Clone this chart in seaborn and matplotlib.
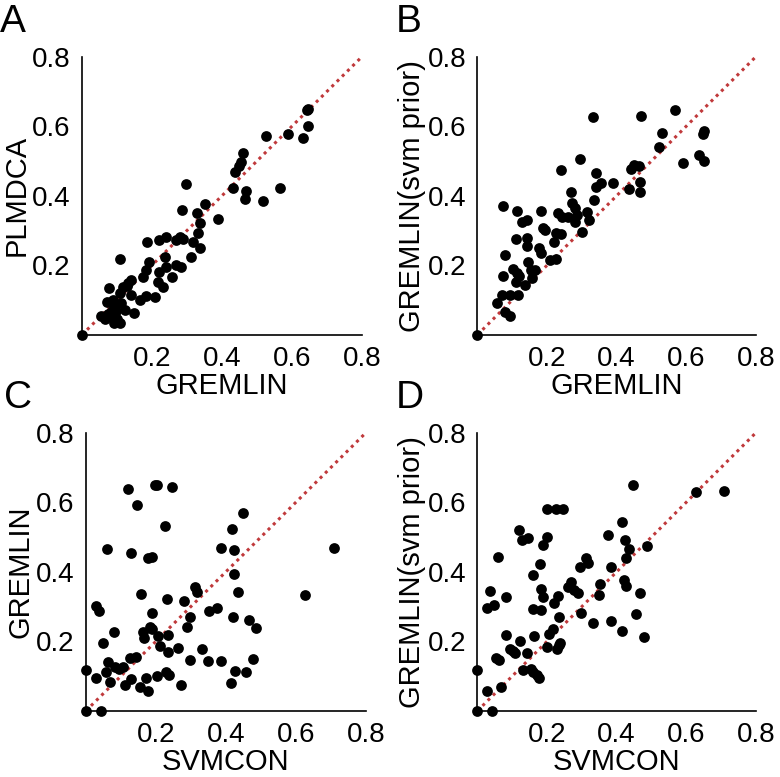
import numpy as np
import pandas as pd
import matplotlib
matplotlib.use('Agg')
import matplotlib.pyplot as plt
import seaborn as sns

# panel A: GREMLIN vs PLMDCA
a_x = [0, 0.055, 0.077, 0.071, 0.093, 0.108, 0.112, 0.093, 0.108, 0.079, 0.084, 0.122, 0.15,
       0.11, 0.117, 0.131, 0.141, 0.141, 0.165, 0.182, 0.208, 0.174, 0.182, 0.192, 0.186, 0.221,
       0.239, 0.236, 0.239, 0.217, 0.231, 0.22, 0.257, 0.27, 0.284, 0.27, 0.29, 0.279, 0.312,
       0.317, 0.331, 0.338, 0.336, 0.33, 0.351, 0.286, 0.298, 0.389, 0.431, 0.465, 0.468, 0.438,
       0.449, 0.455, 0.46, 0.517, 0.565, 0.527, 0.589, 0.633, 0.646, 0.643, 0.646,
       0.065, 0.1, 0.088, 0.128, 0.075, 0.098]
a_y = [0, 0.055, 0.134, 0.096, 0.081, 0.12, 0.091, 0.033, 0.035, 0.053, 0.067, 0.072, 0.064,
       0.219, 0.139, 0.148, 0.158, 0.115, 0.1, 0.112, 0.108, 0.166, 0.187, 0.211, 0.268, 0.273,
       0.282, 0.225, 0.196, 0.153, 0.139, 0.182, 0.167, 0.201, 0.196, 0.273, 0.275, 0.282, 0.225,
       0.268, 0.292, 0.249, 0.321, 0.351, 0.375, 0.359, 0.433, 0.332, 0.423, 0.392, 0.414, 0.469,
       0.485, 0.498, 0.523, 0.385, 0.423, 0.571, 0.579, 0.567, 0.6, 0.646, 0.65,
       0.045, 0.045, 0.1, 0.14, 0.06, 0.07]

# panel B: GREMLIN vs GREMLIN(svm prior)
b_x = [0, 0.056, 0.07, 0.094, 0.08, 0.094, 0.073, 0.08, 0.073, 0.101, 0.113, 0.12, 0.111,
       0.118, 0.137, 0.153, 0.146, 0.166, 0.156, 0.111, 0.115, 0.127, 0.142, 0.142, 0.143, 0.178,
       0.184, 0.182, 0.188, 0.194, 0.209, 0.226, 0.221, 0.226, 0.24, 0.231, 0.242, 0.239, 0.261,
       0.269, 0.273, 0.28, 0.285, 0.28, 0.295, 0.302, 0.314, 0.321, 0.333, 0.335, 0.34, 0.342,
       0.355, 0.39, 0.436, 0.44, 0.45, 0.465, 0.467, 0.467, 0.469, 0.521, 0.53, 0.569, 0.591,
       0.637, 0.651, 0.647, 0.65]
b_y = [0, 0.093, 0.115, 0.115, 0.067, 0.055, 0.17, 0.23, 0.371, 0.189, 0.179, 0.168, 0.151,
       0.115, 0.144, 0.187, 0.211, 0.187, 0.163, 0.276, 0.357, 0.326, 0.33, 0.28, 0.256, 0.249,
       0.235, 0.356, 0.308, 0.302, 0.216, 0.218, 0.268, 0.292, 0.289, 0.35, 0.34, 0.474, 0.34,
       0.412, 0.378, 0.364, 0.345, 0.326, 0.505, 0.297, 0.354, 0.33, 0.627, 0.388, 0.466, 0.426,
       0.438, 0.436, 0.419, 0.476, 0.488, 0.486, 0.44, 0.41, 0.629, 0.541, 0.581, 0.647, 0.495,
       0.517, 0.501, 0.578, 0.585]

# panel C: SVMCON vs GREMLIN
c_x = [0, 0.043, 0, 0.029, 0.029, 0.037, 0.048, 0.061, 0.057, 0.064, 0.069, 0.081, 0.083,
       0.095, 0.107, 0.112, 0.121, 0.126, 0.13, 0.128, 0.143, 0.147, 0.154, 0.159, 0.162, 0.166,
       0.171, 0.179, 0.179, 0.19, 0.183, 0.188, 0.19, 0.197, 0.202, 0.202, 0.207, 0.213, 0.226,
       0.228, 0.238, 0.232, 0.235, 0.235, 0.245, 0.262, 0.271, 0.28, 0.288, 0.297, 0.299, 0.311,
       0.318, 0.333, 0.35, 0.352, 0.376, 0.386, 0.386, 0.414, 0.418, 0.421, 0.424, 0.424, 0.426,
       0.435, 0.448, 0.457, 0.467, 0.478, 0.486, 0.626, 0.709]
c_y = [0, 0, 0.118, 0.096, 0.303, 0.287, 0.196, 0.466, 0.113, 0.14, 0.084, 0.226, 0.125,
       0.12, 0.127, 0.075, 0.639, 0.151, 0.091, 0.453, 0.156, 0.592, 0.07, 0.336, 0.226, 0.209,
       0.096, 0.057, 0.439, 0.443, 0.242, 0.235, 0.281, 0.649, 0.651, 0.101, 0.216, 0.188, 0.532,
       0.113, 0.103, 0.322, 0.169, 0.218, 0.645, 0.182, 0.075, 0.317, 0.242, 0.147, 0.271, 0.357,
       0.341, 0.177, 0.145, 0.288, 0.295, 0.145, 0.469, 0.079, 0.522, 0.271, 0.463, 0.394, 0.116,
       0.343, 0.57, 0.111, 0.261, 0.149, 0.239, 0.333, 0.469]

# panel D: SVMCON vs GREMLIN(svm prior)
d_x = [0, 0.041, 0, 0.027, 0.027, 0.036, 0.048, 0.054, 0.063, 0.06, 0.067, 0.081, 0.082,
       0.094, 0.101, 0.108, 0.122, 0.12, 0.127, 0.146, 0.13, 0.143, 0.153, 0.161, 0.172, 0.178,
       0.159, 0.161, 0.163, 0.18, 0.183, 0.184, 0.19, 0.19, 0.201, 0.199, 0.201, 0.206, 0.216,
       0.221, 0.232, 0.226, 0.245, 0.228, 0.234, 0.237, 0.235, 0.261, 0.27, 0.277, 0.29, 0.296,
       0.299, 0.312, 0.318, 0.333, 0.35, 0.352, 0.375, 0.385, 0.385, 0.416, 0.416, 0.421, 0.424,
       0.426, 0.427, 0.436, 0.447, 0.467, 0.457, 0.478, 0.488, 0.627, 0.71]
d_y = [0, 0, 0.118, 0.056, 0.295, 0.345, 0.305, 0.151, 0.147, 0.442, 0.07, 0.218, 0.327,
       0.177, 0.173, 0.166, 0.201, 0.52, 0.491, 0.496, 0.118, 0.168, 0.12, 0.113, 0.103, 0.094,
       0.391, 0.293, 0.216, 0.422, 0.29, 0.35, 0.329, 0.477, 0.501, 0.582, 0.185, 0.22, 0.237,
       0.311, 0.331, 0.582, 0.58, 0.177, 0.19, 0.196, 0.271, 0.357, 0.372, 0.348, 0.338, 0.415,
       0.281, 0.441, 0.426, 0.252, 0.333, 0.364, 0.506, 0.415, 0.259, 0.544, 0.231, 0.378, 0.491,
       0.359, 0.439, 0.467, 0.649, 0.34, 0.278, 0.214, 0.475, 0.63, 0.632]

panels = [
    ('A', a_x, a_y, 'GREMLIN', 'PLMDCA', [0.105, 0.569, 0.359, 0.358]),
    ('B', b_x, b_y, 'GREMLIN', 'GREMLIN(svm prior)', [0.612, 0.569, 0.357, 0.358]),
    ('C', c_x, c_y, 'SVMCON', 'GREMLIN', [0.110, 0.085, 0.359, 0.358]),
    ('D', d_x, d_y, 'SVMCON', 'GREMLIN(svm prior)', [0.612, 0.085, 0.357, 0.358]),
]

sns.set_style('white')
plt.rcParams['font.family'] = ['Liberation Sans', 'DejaVu Sans']
plt.rcParams['text.color'] = 'black'
plt.rcParams['axes.labelcolor'] = 'black'
plt.rcParams['xtick.color'] = 'black'
plt.rcParams['ytick.color'] = 'black'

fig = plt.figure(figsize=(7.8, 7.77), dpi=100)

for letter, xs, ys, xlab, ylab, rect in panels:
    ax = fig.add_axes(rect)
    df = pd.DataFrame({'x': xs, 'y': ys})
    ax.plot([0, 0.8], [0, 0.8], color='#c0393b', linestyle=(0, (1, 1.4)), linewidth=2.2, zorder=1)
    sns.scatterplot(data=df, x='x', y='y', ax=ax, color='black', s=60, edgecolor='black',
                    linewidth=0, zorder=3, clip_on=False)
    ax.set_xlim(0, 0.8)
    ax.set_ylim(0, 0.8)
    ax.set_xticks([0.2, 0.4, 0.6, 0.8])
    ax.set_yticks([0.2, 0.4, 0.6, 0.8])
    ax.set_xticklabels(['0.2', '0.4', '0.6', '0.8'])
    ax.set_yticklabels(['0.2', '0.4', '0.6', '0.8'])
    ax.tick_params(direction='in', length=3, width=0.8, labelsize=20, pad=8, colors='black')
    for side in ['top', 'right']:
        ax.spines[side].set_visible(False)
    for side in ['left', 'bottom']:
        ax.spines[side].set_color('black')
        ax.spines[side].set_linewidth(1.2)
    ax.set_xlabel(xlab, fontsize=21, labelpad=0)
    ax.set_ylabel(ylab, fontsize=21, labelpad=1)
    bb = ax.get_position()
    fig.text(bb.x0 - 0.105, bb.y1 + 0.022, letter, fontsize=28, va='bottom', ha='left')

fig.savefig('out.png', dpi=100)
